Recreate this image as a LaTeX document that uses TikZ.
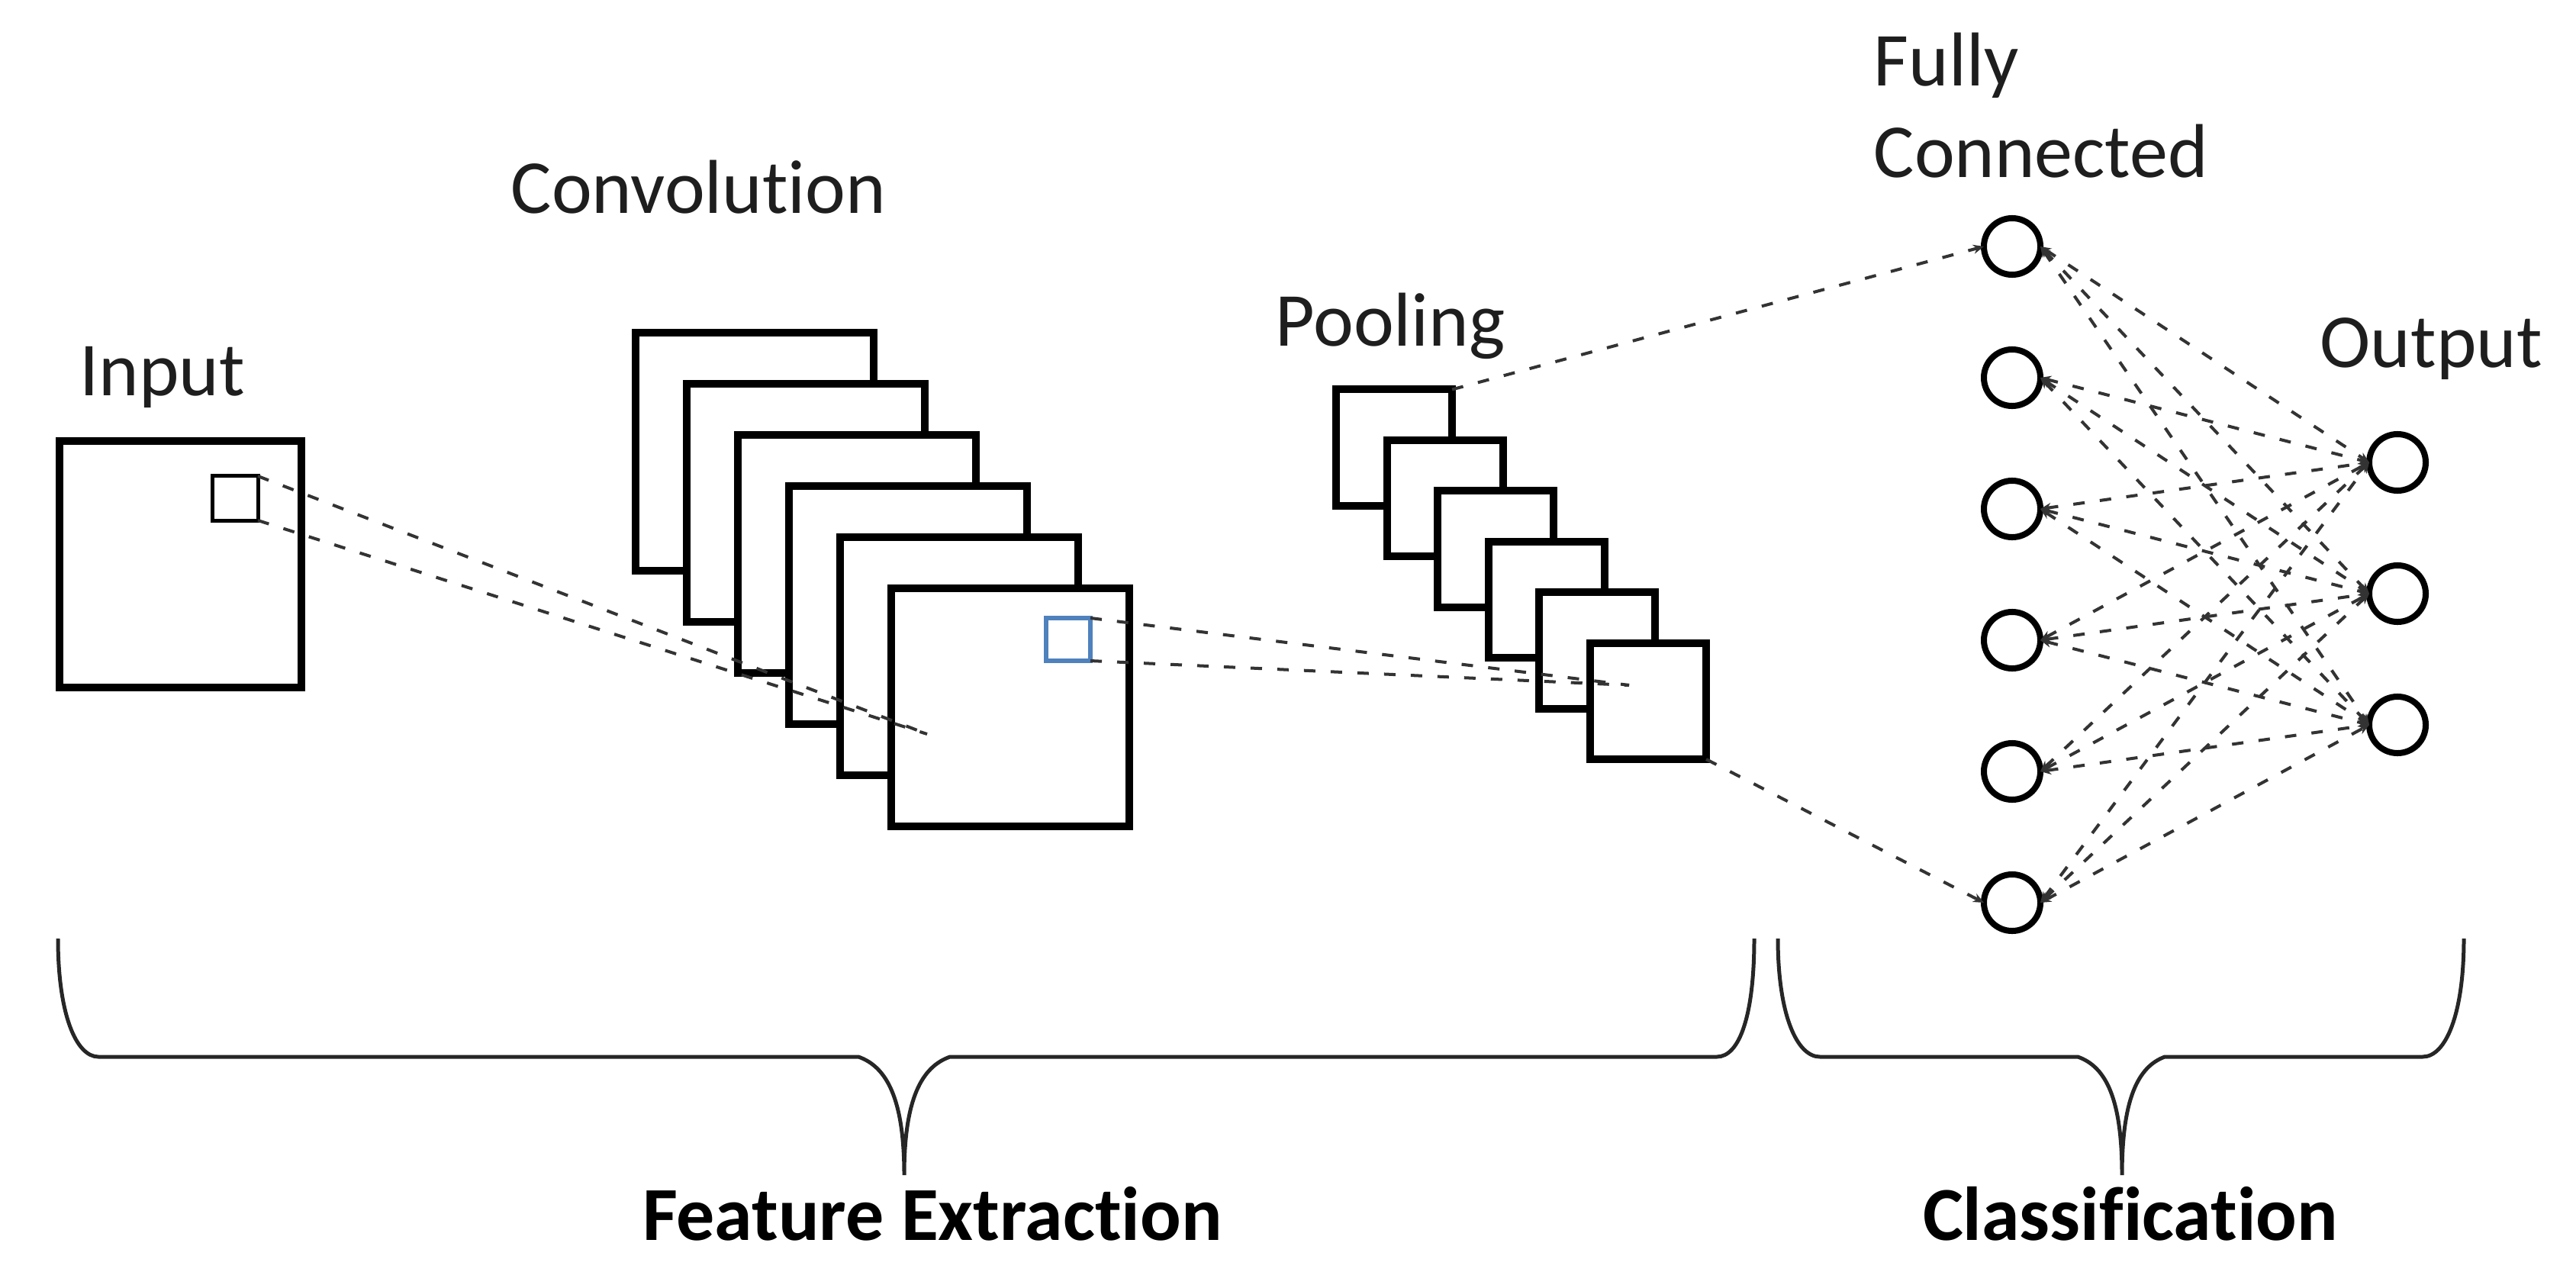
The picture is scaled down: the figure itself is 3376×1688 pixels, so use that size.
\documentclass[tikz,border=0pt]{standalone}
\usepackage{fontspec}
\setmainfont{Carlito}[Ligatures={NoCommon}]
\usetikzlibrary{arrows.meta}
\definecolor{blueedge}{RGB}{79,129,189}
\definecolor{inkc}{RGB}{30,30,30}
\begin{document}
\begin{tikzpicture}[x=0.01cm,y=-0.01cm,
  lbl/.style={font=\fontsize{28.45pt}{33.9pt}\selectfont, inner sep=0, text=inkc},
  blbl/.style={font=\fontsize{28.45pt}{33.9pt}\selectfont\bfseries, inner sep=0, text=black},
  fmap/.style={draw=black, line width=2.85pt, fill=white, inner sep=0, outer sep=0},
  patch/.style={draw=black, line width=1.42pt, inner sep=0, outer sep=0},
  bpatch/.style={draw=blueedge, line width=1.7pt, inner sep=0, outer sep=0},
  neuron/.style={circle, draw=black, line width=2.28pt, fill=white, minimum size=0.74cm, inner sep=0, outer sep=0},
  dline/.style={draw=black!80, line width=1.14pt, dash pattern=on 0.15cm off 0.2cm},
  tip/.tip={Stealth[length=0.14cm,width=0.12cm]},
  brace/.style={draw=black!85, line width=1.42pt}
]
\useasboundingbox (0,0) rectangle (3376,1688);

% labels
\node[lbl, anchor=base west] (tin) at (104,518) {Input};
\node[lbl, anchor=base west] (tconv) at (669,279) {Convolution};
\node[lbl, anchor=base west] (tpool) at (1671,453) {Pooling};
\node[lbl, anchor=base west, align=left] (tfc) at (2455,232) {Fully\\Connected};
\node[lbl, anchor=base west] (tout) at (3040,481) {Output};

% input
\node[fmap, minimum width=3.17cm, minimum height=3.23cm] (inp) at (236.5,739.5) {};
\node[patch, minimum width=0.59cm, minimum height=0.58cm] (insq) at (308.5,653) {};

% convolution maps
\foreach \k in {0,...,5}
  \node[fmap, minimum size=3.12cm] (conv\k) at ({989+67*\k},{592+67*\k}) {};
\node[bpatch, minimum width=0.58cm, minimum height=0.56cm] (csq) at (1400,838) {};

% pooling maps
\foreach \k in {0,...,5}
  \node[fmap, minimum size=1.52cm] (pool\k) at ({1827+66.6*\k},{586.5+66.5*\k}) {};

% neurons
\foreach \i in {1,...,6}
  \node[neuron] (fc\i) at (2637,{323+172*(\i-1)}) {};
\foreach \j in {1,2,3}
  \node[neuron] (out\j) at (3142,{606+172*(\j-1)}) {};

% receptive field projections
\coordinate (p1) at (1215,962);
\coordinate (p2) at (2135,898);
\draw[dline] (insq.north east) -- (p1);
\draw[dline] (insq.south east) -- (p1);
\draw[dline] (csq.north east) -- (p2);
\draw[dline] (csq.south east) -- (p2);
\draw[dline, -tip] (pool0.north east) -- (fc1.west);
\draw[dline, -tip] (pool5.south east) -- (fc6.west);

% fully connected
\foreach \i in {1,...,6}
  \foreach \j in {1,2,3}
    \draw[dline, tip-tip] (fc\i.east) -- (out\j.west);

% braces
\coordinate (b1tip) at (1185,1540);
\coordinate (b2tip) at (2781,1540);
\draw[brace] (76,1230) .. controls (76,1330) and (100,1385) .. (129,1385)
  -- (1125,1385) .. controls (1162,1398) and (1185,1440) .. (b1tip)
  .. controls (1185,1440) and (1208,1398) .. (1245,1385)
  -- (2250,1385) .. controls (2280,1385) and (2299,1330) .. (2299,1230);
\draw[brace] (2330,1230) .. controls (2330,1330) and (2355,1385) .. (2385,1385)
  -- (2723,1385) .. controls (2760,1398) and (2781,1440) .. (b2tip)
  .. controls (2781,1440) and (2802,1398) .. (2837,1385)
  -- (3175,1385) .. controls (3205,1385) and (3229,1330) .. (3229,1230);

\node[blbl, anchor=base] (tfe) at (1222,1625) {Feature Extraction};
\node[blbl, anchor=base] (tcl) at (2792,1625) {Classification};
\end{tikzpicture}
\end{document}
